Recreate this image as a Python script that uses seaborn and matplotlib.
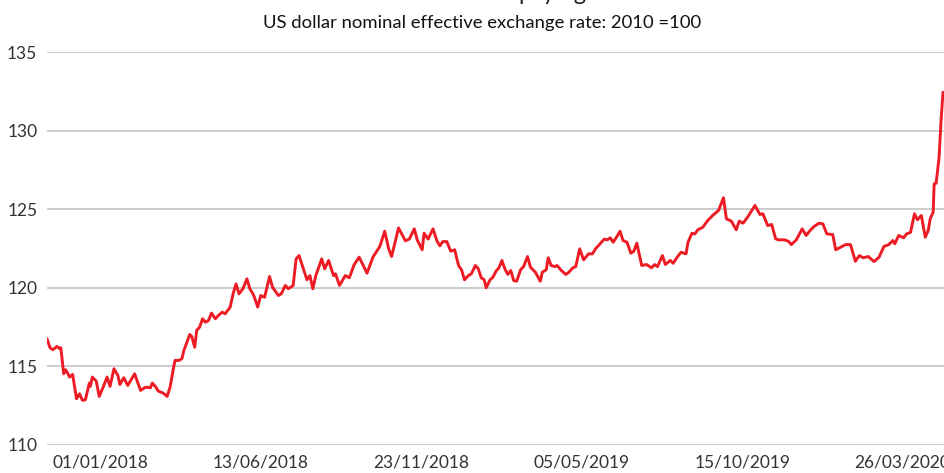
import pandas as pd
import matplotlib.pyplot as plt
import matplotlib.dates as mdates
import seaborn as sns

# US dollar nominal effective exchange rate (2010 = 100)
dates = [
    "2017-11-08", "2017-11-11", "2017-11-14", "2017-11-18", "2017-11-21", "2017-11-22",
    "2017-11-25", "2017-11-27", "2017-12-01", "2017-12-04", "2017-12-08", "2017-12-11",
    "2017-12-14", "2017-12-17", "2017-12-21", "2017-12-22", "2017-12-24", "2017-12-28",
    "2017-12-31", "2018-01-04", "2018-01-08", "2018-01-11", "2018-01-15", "2018-01-19",
    "2018-01-21", "2018-01-25", "2018-01-29", "2018-02-05", "2018-02-11", "2018-02-16",
    "2018-02-21", "2018-02-23", "2018-02-26", "2018-03-01", "2018-03-06", "2018-03-10",
    "2018-03-13", "2018-03-16", "2018-03-18", "2018-03-22", "2018-03-25", "2018-03-27",
    "2018-04-02", "2018-04-04", "2018-04-07", "2018-04-09", "2018-04-12", "2018-04-15",
    "2018-04-18", "2018-04-21", "2018-04-24", "2018-04-28", "2018-05-01", "2018-05-05",
    "2018-05-08", "2018-05-13", "2018-05-16", "2018-05-19", "2018-05-22", "2018-05-26",
    "2018-05-30", "2018-06-02", "2018-06-06", "2018-06-10", "2018-06-13", "2018-06-17",
    "2018-06-22", "2018-06-25", "2018-07-01", "2018-07-04", "2018-07-08", "2018-07-11",
    "2018-07-16", "2018-07-19", "2018-07-22", "2018-07-30", "2018-08-02", "2018-08-05",
    "2018-08-08", "2018-08-14", "2018-08-17", "2018-08-21", "2018-08-26", "2018-08-28",
    "2018-09-01", "2018-09-07", "2018-09-11", "2018-09-16", "2018-09-21", "2018-09-29",
    "2018-10-05", "2018-10-12", "2018-10-17", "2018-10-21", "2018-10-24", "2018-10-31",
    "2018-11-07", "2018-11-11", "2018-11-16", "2018-11-19", "2018-11-24", "2018-11-26",
    "2018-11-30", "2018-12-05", "2018-12-09", "2018-12-12", "2018-12-15", "2018-12-19",
    "2018-12-23", "2018-12-27", "2018-12-31", "2019-01-03", "2019-01-06", "2019-01-10",
    "2019-01-13", "2019-01-17", "2019-01-20", "2019-01-23", "2019-01-26", "2019-01-28",
    "2019-02-01", "2019-02-04", "2019-02-07", "2019-02-10", "2019-02-13", "2019-02-16",
    "2019-02-19", "2019-02-22", "2019-02-25", "2019-02-28", "2019-03-04", "2019-03-07",
    "2019-03-11", "2019-03-14", "2019-03-19", "2019-03-24", "2019-03-26", "2019-03-30",
    "2019-04-01", "2019-04-04", "2019-04-08", "2019-04-10", "2019-04-15", "2019-04-19",
    "2019-04-22", "2019-04-26", "2019-04-29", "2019-05-03", "2019-05-07", "2019-05-12",
    "2019-05-16", "2019-05-19", "2019-05-23", "2019-05-28", "2019-05-31", "2019-06-03",
    "2019-06-06", "2019-06-09", "2019-06-13", "2019-06-16", "2019-06-20", "2019-06-24",
    "2019-06-27", "2019-06-30", "2019-07-05", "2019-07-10", "2019-07-15", "2019-07-18",
    "2019-07-21", "2019-07-26", "2019-07-29", "2019-08-03", "2019-08-06", "2019-08-10",
    "2019-08-14", "2019-08-19", "2019-08-21", "2019-08-25", "2019-08-28", "2019-08-31",
    "2019-09-05", "2019-09-10", "2019-09-15", "2019-09-21", "2019-09-26", "2019-09-29",
    "2019-10-04", "2019-10-09", "2019-10-12", "2019-10-16", "2019-10-21", "2019-10-28",
    "2019-11-02", "2019-11-05", "2019-11-10", "2019-11-14", "2019-11-18", "2019-11-21",
    "2019-11-27", "2019-12-01", "2019-12-04", "2019-12-09", "2019-12-15", "2019-12-19",
    "2019-12-23", "2019-12-27", "2020-01-01", "2020-01-05", "2020-01-09", "2020-01-15",
    "2020-01-18", "2020-01-23", "2020-01-28", "2020-02-02", "2020-02-07", "2020-02-11",
    "2020-02-15", "2020-02-20", "2020-02-26", "2020-03-02", "2020-03-07", "2020-03-12",
    "2020-03-16", "2020-03-18", "2020-03-22", "2020-03-27", "2020-03-30", "2020-04-03",
    "2020-04-07", "2020-04-10", "2020-04-14", "2020-04-18", "2020-04-21", "2020-04-23",
    "2020-04-26", "2020-04-27", "2020-04-29", "2020-05-02", "2020-05-04", "2020-05-06",
]
neer = [
    116.76, 116.19, 116.06, 116.27, 116.12, 116.19,
    114.53, 114.79, 114.32, 114.49, 112.94, 113.26,
    112.84, 112.88, 113.94, 113.73, 114.32, 114.06,
    113.09, 113.68, 114.32, 113.73, 114.85, 114.42,
    113.85, 114.28, 113.79, 114.53, 113.47, 113.68,
    113.64, 113.94, 113.73, 113.43, 113.30, 113.09,
    113.68, 114.74, 115.38, 115.38, 115.49, 116.01,
    117.03, 116.90, 116.22, 117.29, 117.50, 118.03,
    117.81, 117.92, 118.39, 118.03, 118.24, 118.45,
    118.35, 118.77, 119.62, 120.25, 119.62, 119.94,
    120.57, 119.94, 119.51, 118.77, 119.51, 119.40,
    120.72, 120.04, 119.51, 119.62, 120.15, 119.94,
    120.15, 121.84, 122.05, 120.51, 120.78, 119.94,
    120.78, 121.84, 121.21, 121.74, 120.78, 120.89,
    120.15, 120.78, 120.64, 121.48, 121.95, 120.93,
    121.95, 122.63, 123.60, 122.48, 121.99, 123.81,
    122.99, 123.10, 123.75, 123.05, 122.42, 123.47,
    123.10, 123.75, 122.99, 122.67, 122.94, 122.94,
    122.33, 122.42, 121.42, 121.15, 120.51, 120.78,
    120.89, 121.42, 121.21, 120.64, 120.51, 120.00,
    120.51, 120.68, 121.06, 121.27, 121.74, 121.21,
    120.85, 121.10, 120.46, 120.42, 121.15, 121.35,
    121.99, 121.31, 120.99, 120.42, 120.99, 121.15,
    121.91, 121.42, 121.35, 121.42, 121.06, 120.85,
    120.99, 121.27, 121.35, 122.48, 121.78, 122.16,
    122.16, 122.48, 122.75, 123.10, 123.05, 123.18,
    122.90, 123.18, 123.60, 123.01, 122.90, 122.20,
    122.33, 122.84, 121.42, 121.48, 121.27, 121.48,
    121.35, 122.05, 121.48, 121.74, 121.56, 121.95,
    122.26, 122.16, 122.90, 123.47, 123.43, 123.69,
    123.85, 124.28, 124.60, 124.92, 125.73, 124.39,
    124.24, 123.69, 124.24, 124.11, 124.54, 125.24,
    124.67, 124.71, 123.96, 124.03, 123.12, 123.05,
    123.05, 122.96, 122.75, 123.05, 123.75, 123.33,
    123.65, 123.90, 124.11, 124.07, 123.43, 123.39,
    122.42, 122.58, 122.75, 122.75, 121.69, 122.05,
    121.91, 121.99, 121.67, 121.95, 122.63, 122.75,
    123.01, 122.80, 123.33, 123.18, 123.43, 123.53,
    124.71, 124.33, 124.60, 123.22, 123.65, 124.39,
    124.81, 126.62, 126.65, 128.30, 130.64, 132.44,
]
tick_dates = ["2018-01-01", "2018-06-13", "2018-11-23", "2019-05-05", "2019-10-15", "2020-03-26"]
y_ticks = [110, 115, 120, 125, 130, 135]

df = pd.DataFrame({"date": pd.to_datetime(dates), "neer": neer})

sns.set_style("white")
plt.rcParams["font.family"] = ["Lato", "DejaVu Sans"]

fig = plt.figure(figsize=(9.44, 4.73), dpi=100)
ax = fig.add_axes([0.0498, 0.0592, 0.9502, 0.8308])

sns.lineplot(data=df, x="date", y="neer", ax=ax, color="#ED1C24", linewidth=2.1)

ax.set_ylim(110, 135)
ax.set_xlim(pd.Timestamp("2017-11-08"), pd.Timestamp("2020-05-07"))
ax.set_yticks(y_ticks)
ax.set_xticks(pd.to_datetime(tick_dates))
ax.xaxis.set_major_formatter(mdates.DateFormatter("%d/%m/%Y"))
ax.yaxis.grid(True, color="#C4C4C4", linewidth=1.2)
ax.xaxis.grid(False)
for s in ax.spines.values():
    s.set_visible(False)
ax.tick_params(axis="both", length=0, labelsize=12.5, labelcolor="#333333")
ax.tick_params(axis="y", pad=7)
ax.tick_params(axis="x", pad=7)
ax.set_xlabel("")
ax.set_ylabel("")

# title is mostly cut off at the top edge of the reference
fig.text(0.585, 1.0, "paying", ha="center", va="baseline", fontsize=17, color="#222222")
fig.text(0.511, 0.951, "US dollar nominal effective exchange rate: 2010 =100",
         ha="center", va="center", fontsize=13.3, color="#111111")

fig.savefig("out.png", dpi=100)
